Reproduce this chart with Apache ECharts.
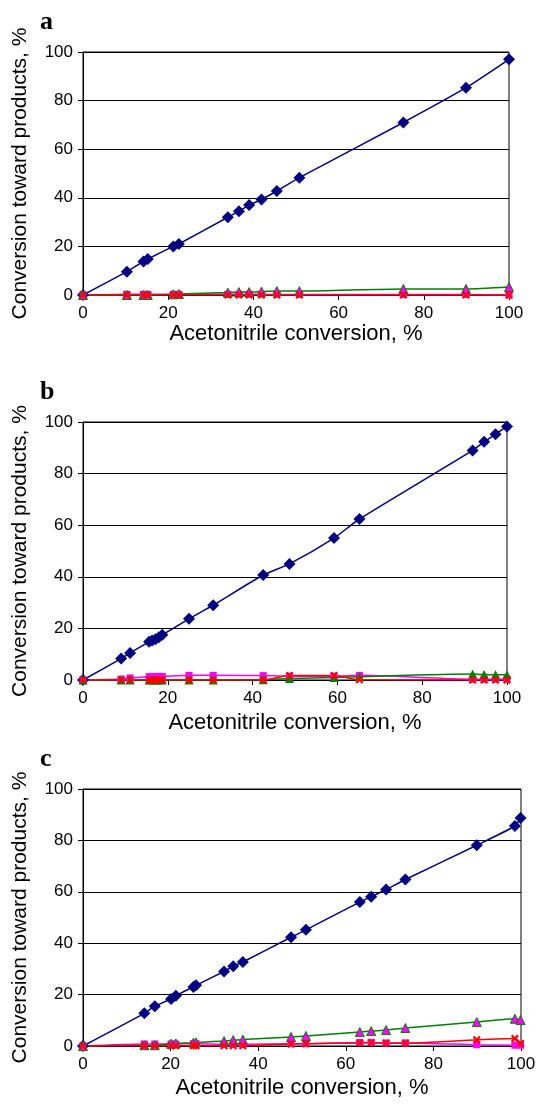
<!DOCTYPE html>
<html>
<head>
<meta charset="utf-8">
<script src="https://cdn.jsdelivr.net/npm/echarts@6/dist/echarts.min.js"></script>
<style>
    html, body { margin: 0; padding: 0; background: #fff; }
    #main { width: 539px; height: 1104px; }
</style>
</head>
<body>
<div id="main"></div>
<script>
// 面板 a 数据
var A_X       = [0, 10.3, 14.2, 15.2, 21.2, 22.5, 34, 36.6, 39, 41.9, 45.5, 50.8, 75.2, 89.9, 100];
var A_BLUE    = [0, 9.6, 13.8, 14.8, 20, 21, 32, 34.5, 37, 39.3, 42.8, 48.3, 71, 85.3, 97];
var A_MAGENTA = [0, 0.3, 0.3, 0.3, 0.3, 0.3, 0.3, 0.3, 0.3, 0.3, 0.2, 0.2, 0.2, 0.2, 0];
var A_GREEN   = [0, 0, 0, 0, 0.3, 0.4, 1.0, 1.2, 1.2, 1.4, 1.6, 1.6, 2.5, 2.5, 3.3];
var A_RED     = [0, 0, 0, 0, 0, 0, 0, 0, 0, 0, 0, 0, 0, 0, 0];

// 面板 b 数据
var B_X       = [0, 9, 11.1, 15.6, 16.3, 17.1, 17.9, 18.7, 25, 30.7, 42.5, 48.7, 59.2, 65.2, 91.9, 94.6, 97.3, 100];
var B_BLUE    = [0, 8.3, 10.5, 14.8, 15.3, 15.8, 16.6, 17.5, 23.7, 29, 40.7, 45, 55, 62.4, 89, 92.3, 95.3, 98.3];
var B_MAGENTA = [0, 0.4, 0.8, 1.3, 1.4, 1.4, 1.4, 1.4, 1.8, 1.8, 1.7, 1.5, 1.5, 1.8, 0.3, 0.3, 0.3, 0.3];
var B_GREEN   = [0, 0, 0, 0, 0, 0, 0, 0, 0, 0, 0.1, 0.6, 1.0, 1.3, 2.3, 2.1, 2.0, 2.0];
var B_RED     = [0, 0, 0, 0, 0, 0, 0, 0, 0, 0, 0, 1.7, 1.7, 0.1, 0, 0, 0, 0];

// 面板 c 数据
var C_X       = [0, 14, 16.4, 20.1, 21.2, 25.2, 25.8, 32.2, 34.3, 36.5, 47.5, 50.9, 63.2, 65.8, 69.2, 73.6, 89.9, 98.6, 99.9];
var C_BLUE    = [0, 12.7, 15.5, 18.3, 19.6, 23, 23.6, 29, 31, 32.7, 42.3, 45.2, 56, 58.1, 60.9, 64.8, 78.1, 85.6, 88.7];
var C_MAGENTA = [0, 0.8, 0.8, 0.8, 0.8, 0.9, 0.9, 0.7, 0.7, 0.7, 0.9, 0.9, 1.4, 1.4, 1.2, 1.2, 0.5, 0.3, 0.3];
var C_GREEN   = [0, 0.3, 0.3, 0.9, 1.0, 1.3, 1.4, 1.9, 2.3, 2.5, 3.5, 3.9, 5.4, 5.8, 6.2, 7.0, 9.3, 10.6, 10.1];
var C_RED     = [0, 0.1, 0.1, 0.1, 0.1, 0.1, 0.1, 0.1, 0.1, 0.1, 0.8, 0.9, 1.2, 1.3, 1.1, 1.1, 2.4, 2.9, 1.0];

var PANEL_LABELS = ['a', 'b', 'c'];
var X_NAME = 'Acetonitrile conversion, %';
var Y_NAME = 'Conversion toward products, %';

var X_SYMBOL = 'path://M2,0L5,3L8,0L10,2L7,5L10,8L8,10L5,7L2,10L0,8L3,5L0,2Z';

// 合并 x / y
function pairs (xs, ys) {
    return xs.map(function (x, i) { return [x, ys[i]]; });
}

// 单条曲线
function line (idx, data, color, symbol, size, fill) {
    return {
        type: 'line',
        xAxisIndex: idx,
        yAxisIndex: idx,
        data: data,
        smooth: 0.2,
        symbol: symbol,
        symbolSize: size,
        showAllSymbol: true,
        lineStyle: { color: color, width: 1.5 },
        itemStyle: { color: fill || color, borderColor: color, borderWidth: fill ? 1 : 0, opacity: 1 }
    };
}

// 一个面板的四条曲线
function panelSeries (idx, xs, blue, magenta, green, red, triFill) {
    return [
        line(idx, pairs(xs, blue), '#000080', 'diamond', 12),
        line(idx, pairs(xs, magenta), '#FF00FF', 'rect', 7),
        line(idx, pairs(xs, green), '#008000', 'triangle', 9, triFill),
        line(idx, pairs(xs, red), '#FF0000', X_SYMBOL, 8)
    ];
}

var grids = [
    { left: 83, top: 52, width: 426, height: 243 },
    { left: 83, top: 422, width: 424, height: 258 },
    { left: 83, top: 789, width: 438, height: 257 }
];
var xNameGaps = [24, 32, 31];

var labelFont = { color: '#000', fontFamily: 'Liberation Sans', fontSize: 17 };
var yNameFont = { color: '#000', fontFamily: 'Liberation Sans', fontSize: 21 };
var xNameFont = { color: '#000', fontFamily: 'Liberation Sans', fontSize: 22 };

var option = {
    animation: false,
    backgroundColor: '#fff',
    grid: grids.map(function (g) {
        return Object.assign({ show: true, borderColor: '#000', borderWidth: 1, containLabel: false }, g);
    }),
    xAxis: grids.map(function (g, i) {
        return {
            type: 'value', gridIndex: i, min: 0, max: 100, interval: 20,
            name: X_NAME, nameLocation: 'middle', nameGap: xNameGaps[i], nameTextStyle: xNameFont,
            axisLine: { show: true, onZero: false, lineStyle: { color: '#000', width: 1 } },
            axisTick: { show: true, inside: false, length: 5, lineStyle: { color: '#000' } },
            axisLabel: Object.assign({ margin: 10 }, labelFont),
            splitLine: { show: false }
        };
    }),
    yAxis: grids.map(function (g, i) {
        return {
            type: 'value', gridIndex: i, min: 0, max: 100, interval: 20,
            name: Y_NAME, nameLocation: 'middle', nameGap: 52, nameTextStyle: yNameFont,
            axisLine: { show: true, lineStyle: { color: '#000', width: 1 } },
            axisTick: { show: true, inside: false, length: 5, lineStyle: { color: '#000' } },
            axisLabel: Object.assign({ margin: 10 }, labelFont),
            splitLine: { show: true, lineStyle: { color: '#000', width: 1 } }
        };
    }),
    graphic: PANEL_LABELS.map(function (t, i) {
        return {
            type: 'text', left: 40, top: grids[i].top - 43,
            style: { text: t, font: 'bold 26px "Liberation Serif"', fill: '#000' }
        };
    }),
    series: [].concat(
        panelSeries(0, A_X, A_BLUE, A_MAGENTA, A_GREEN, A_RED, '#FF00FF'),
        panelSeries(1, B_X, B_BLUE, B_MAGENTA, B_GREEN, B_RED, null),
        panelSeries(2, C_X, C_BLUE, C_MAGENTA, C_GREEN, C_RED, '#FF00FF')
    )
};

var chart = echarts.init(document.getElementById('main'));
chart.setOption(option);
</script>
</body>
</html>
